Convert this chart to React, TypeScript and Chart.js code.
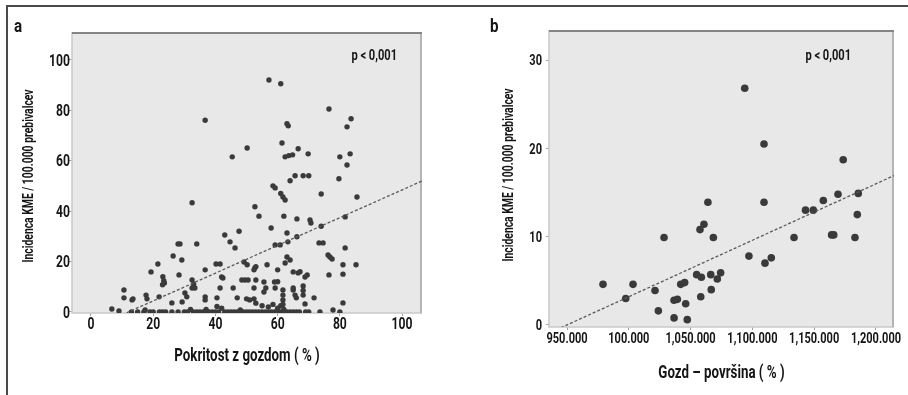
import React, { useEffect, useRef } from "react";
import { Chart, registerables } from "chart.js";

Chart.register(...registerables);

const FONT = "Roboto, 'DejaVu Sans', sans-serif";

// Panel a: forest cover (%) per municipality vs. TBE incidence per 100,000 inhabitants
const coverA: number[] = [
  // upper cloud
  57.2, 61, 36.7, 76.5, 83.6, 82.3, 63, 63.4, 61.4, 50.2, 45.4, 66.6, 62.4, 63.6, 64.8, 69.8, 80, 83.3,
  82.3, 79.7, 64, 65.6, 68.2, 70, 58.5, 59.2, 74, 61, 85.5, 32.5, 52.7, 61.7, 62.4,
  // 25–40
  54, 62, 66.2, 57.9, 70.4, 70.7, 81.7, 74, 73.3, 74.6, 63, 63.3, 66.2, 59.2, 60.8, 44.7, 46.3, 47.6,
  43, 28, 28.6, 34, 81.7,
  // 15–25
  29.2, 26.4, 21.5, 19.3, 36.7, 40.2, 41.5, 49.2, 50.2, 52.7, 53, 56.6, 60, 62.4, 64, 63, 65, 66.6,
  67.2, 76.8, 77.5, 76.2, 76.5, 81, 81, 85.2, 28.3, 52.4, 69.5,
  // 5–15
  23.1, 23.4, 23, 23.6, 32.5, 32.5, 33.4, 30.2, 30.8, 33, 42, 41.5, 36.7, 36.7, 40.5, 45.7, 47, 48.5,
  50.5, 50, 52.4, 53, 55.6, 56.2, 59.2, 61.7, 61.7, 65, 65.6, 68.2, 68.2, 68.2, 68.8, 71.7, 10.6, 10.6,
  13.5, 17.7, 18, 21.9, 52.4, 55.6, 42.4, 49.5, 65, 66, 60, 59,
  // 0–5
  68.8, 81, 26, 29.3, 13.2, 6.7, 9, 17.4, 77.8, 51, 53, 55, 57, 58.5, 60, 61, 61.7, 61.7, 62, 40.5,
  42, 37, 32, 48,
  // on zero
  13, 15, 17, 19, 20, 22, 23, 24, 26, 28, 30, 31, 33, 34, 35, 36, 37, 38, 39, 40, 41, 43, 44, 45, 46,
  47, 48, 49, 50, 51, 52, 53, 54, 55, 56, 57, 58, 59, 60, 61, 62, 63, 64, 65, 66, 67, 69, 70, 73.6, 80,
];
const incidenceA: number[] = [
  92, 90.5, 76, 80.5, 76.6, 73.4, 74.6, 73.8, 67, 65, 61.5, 64.7, 61.5, 62, 62.3, 62.7, 61.5, 62.7,
  58.3, 52.8, 52, 54, 54, 54, 50, 49.2, 46.8, 47, 45.6, 43.3, 41.7, 45.6, 44.4,
  38, 38, 36.9, 33.3, 36.5, 35.3, 37.7, 34, 27.4, 27.4, 31.3, 27.8, 29.8, 26.6, 26.6, 27.8, 25.4, 32,
  30.5, 27, 27, 27, 25.4,
  20.6, 22.2, 19, 15.9, 16.7, 19, 19, 19.8, 18.7, 17.5, 18, 18.7, 16.7, 19.4, 20.6, 21.8, 15.9, 15.5,
  16, 21.8, 21, 22.6, 14.7, 15, 18.7, 18.7, 14.7, 16.7, 14.7,
  14, 12.4, 10.8, 11.5, 12.7, 9.5, 9.5, 7.5, 6, 11, 13.9, 9.5, 6, 4.8, 5.6, 9.5, 5.6, 12.7,
  12.7, 5.2, 5.2, 12.7, 11.9, 9.5, 9.5, 8.7, 6.7, 8.7, 6.7, 10.3, 8.5, 6.7, 13.9, 5.6, 8.7, 5.6,
  5.2, 6.7, 5.2, 6, 9.5, 7.9, 13.5, 12.7, 9.5, 5.6, 12, 11.9,
  3.2, 3.6, 3.6, 4, 4.8, 1.2, 0.4, 0.8, 0.8, 4.8, 3.5, 2.5, 2, 3, 1.5, 2.5, 4.8, 3, 1, 2.2,
  1.5, 1, 1, 0.8,
  0, 0, 0, 0, 0, 0, 0, 0, 0, 0, 0, 0, 0, 0, 0, 0, 0, 0, 0, 0, 0, 0, 0, 0, 0,
  0, 0, 0, 0, 0, 0, 0, 0, 0, 0, 0, 0, 0, 0, 0, 0, 0, 0, 0, 0, 0, 0, 0, 0, 0,
];

// Panel b: forest area vs. TBE incidence per 100,000 inhabitants
const forestAreaB: number[] = [
  1093.8, 1109.4, 1173.5, 1185.7, 1169.3, 1157.4, 1064, 1109.4, 1143, 1149.3, 1184.9, 1164.1, 1165.8,
  1183, 1133.7, 1097.2, 1110.2, 1115.3, 1057.6, 1060.8, 1068.4, 1028.5, 1054.9, 1058.7, 1066.3, 1071.6,
  1074.3, 1066.7, 1058.2, 1042, 1045.2, 1036.6, 1039.3, 1046, 1021.2, 1023.9, 1036.6, 1047.3, 997.5,
  1003.4, 979.1,
];
const incidenceB: number[] = [
  26.8, 20.5, 18.7, 14.9, 14.8, 14.1, 13.9, 13.9, 13.0, 13.0, 12.5, 10.2, 10.2,
  9.9, 9.9, 7.8, 7.0, 7.6, 10.8, 11.4, 9.9, 9.9, 5.7, 5.4, 5.7, 5.2,
  5.9, 4.0, 3.2, 4.6, 4.8, 2.8, 2.9, 2.4, 3.9, 1.6, 0.8, 0.6, 3.0,
  4.6, 4.6,
];

const xTicksA = [0, 20, 40, 60, 80, 100];
const yTicksA = [0, 20, 40, 60, 80, 100];
const xTicksB = [950, 1000, 1050, 1100, 1150, 1200];
const xTickLabelsB = ["950.000", "100.000", "1,050.000", "1,100.000", "1,150.000", "1,200.000"];
const yTicksB = [0, 10, 20, 30];

// Least-squares fits drawn as dashed lines
const fitA = { intercept: -6.6, slope: 0.55 };
const fitB = { intercept: -60.7, slope: 0.0639 };

type Panel = {
  letter: string;
  letterX: number;
  pInset: number;
  xs: number[];
  ys: number[];
  fit: { intercept: number; slope: number };
  fitFrom: number;
  xMin: number;
  xMax: number;
  yMin: number;
  yMax: number;
  xTicks: number[];
  xLabels?: string[];
  yTicks: number[];
  xTitle: string;
  yTitle: string;
  pointRadius: number;
  padTop: number;
  padRight: number;
  yAxisWidth: number;
  xAxisHeight: number;
  tickSize: number;
  tickSX: number;
  yLabelGap: number;
  xLabelBase: number;
  xTitleBase: number;
  yTitleBase: number;
  yTitleCenter: number;
};

const panels: Panel[] = [
  {
    letter: "a",
    letterX: 14,
    pInset: 25,
    xs: coverA,
    ys: incidenceA,
    fit: fitA,
    fitFrom: 10,
    xMin: -6.1,
    xMax: 106.4,
    yMin: -0.4,
    yMax: 111,
    xTicks: xTicksA,
    yTicks: yTicksA,
    xTitle: "Pokritost z gozdom ( % )",
    yTitle: "Incidenca KME / 100.000 prebivalcev",
    pointRadius: 2.7,
    padTop: 32,
    padRight: 32,
    yAxisWidth: 72,
    xAxisHeight: 82,
    tickSize: 16,
    tickSX: 0.76,
    yLabelGap: 2,
    xLabelBase: 329,
    xTitleBase: 361,
    yTitleBase: 33,
    yTitleCenter: 176,
  },
  {
    letter: "b",
    letterX: 36,
    pInset: 43,
    xs: forestAreaB,
    ys: incidenceB,
    fit: fitB,
    fitFrom: 945,
    xMin: 935.4,
    xMax: 1214.6,
    yMin: -0.23,
    yMax: 33.4,
    xTicks: xTicksB,
    xLabels: xTickLabelsB,
    yTicks: yTicksB,
    xTitle: "Gozd – površina ( % )",
    yTitle: "Incidenca KME / 100.000 prebivalcev",
    pointRadius: 3.8,
    padTop: 30,
    padRight: 14,
    yAxisWidth: 95,
    xAxisHeight: 68,
    tickSize: 14.5,
    tickSX: 0.76,
    yLabelGap: 7,
    xLabelBase: 343,
    xTitleBase: 378,
    yTitleBase: 59,
    yTitleCenter: 175,
  },
];

function drawCondensed(
  ctx: CanvasRenderingContext2D,
  text: string,
  x: number,
  y: number,
  size: number,
  sx: number,
  align: CanvasTextAlign,
  rotate = false,
  weight = 700
) {
  ctx.save();
  ctx.translate(x, y);
  if (rotate) ctx.rotate(-Math.PI / 2);
  ctx.scale(sx, 1);
  ctx.font = `${weight} ${size}px ${FONT}`;
  ctx.textAlign = align;
  ctx.textBaseline = "alphabetic";
  ctx.fillStyle = "#151515";
  ctx.fillText(text, 0, 0);
  ctx.restore();
}

const plotFrame = {
  id: "plotFrame",
  beforeDraw(chart: any) {
    const { ctx, chartArea } = chart;
    const { left, top, right, bottom } = chartArea;
    ctx.save();
    ctx.fillStyle = "#e8e8e8";
    ctx.fillRect(left, top, right - left, bottom - top);
    ctx.restore();
  },
  beforeDatasetsDraw(chart: any) {
    const { ctx, chartArea } = chart;
    const { left, top, right, bottom } = chartArea;
    ctx.save();
    ctx.strokeStyle = "#c9c9c9";
    ctx.lineWidth = 1.5;
    ctx.beginPath();
    ctx.moveTo(left, top);
    ctx.lineTo(left, bottom);
    ctx.lineTo(right, bottom);
    ctx.stroke();
    ctx.strokeStyle = "#b4b4b4";
    ctx.lineWidth = 2;
    ctx.beginPath();
    ctx.moveTo(right - 1, top);
    ctx.lineTo(right - 1, bottom);
    ctx.stroke();
    ctx.strokeStyle = "#858585";
    ctx.lineWidth = 2;
    ctx.beginPath();
    ctx.moveTo(left, top + 1);
    ctx.lineTo(right, top + 1);
    ctx.stroke();
    ctx.restore();
  },
  afterDraw(chart: any, _args: any, opts: any) {
    const p: Panel = opts.panel;
    const { ctx, chartArea, scales } = chart;
    const xs = scales.x;
    const ys = scales.y;
    // tick labels
    p.xTicks.forEach((v, i) => {
      const label = p.xLabels ? p.xLabels[i] : String(v);
      drawCondensed(ctx, label, xs.getPixelForValue(v), p.xLabelBase, p.tickSize, p.tickSX, "center");
    });
    p.yTicks.forEach((v) => {
      drawCondensed(
        ctx,
        String(v),
        chartArea.left - p.yLabelGap,
        ys.getPixelForValue(v) + p.tickSize * 0.36,
        p.tickSize,
        p.tickSX,
        "right"
      );
    });
    // axis titles
    drawCondensed(ctx, p.xTitle, (chartArea.left + chartArea.right) / 2, p.xTitleBase, 18, 0.74, "center");
    drawCondensed(ctx, p.yTitle, p.yTitleBase, p.yTitleCenter, 15.5, 0.67, "center", true);
    // panel letter and significance
    drawCondensed(ctx, p.letter, p.letterX, 32, 19, 0.8, "left");
    drawCondensed(ctx, "p < 0,001", chartArea.right - p.pInset, 60, 15, 0.74, "right");
  },
};

function PanelChart({ panel, left }: { panel: Panel; left: number }) {
  const ref = useRef<HTMLCanvasElement | null>(null);

  useEffect(() => {
    if (!ref.current) return;
    const p = panel;
    const points = p.xs.map((x, i) => ({ x, y: p.ys[i] }));
    const fitTo = p.xMax;
    const fitLine = [
      { x: p.fitFrom, y: p.fit.intercept + p.fit.slope * p.fitFrom },
      { x: fitTo, y: p.fit.intercept + p.fit.slope * fitTo },
    ];

    const chart = new Chart(ref.current, {
      type: "scatter",
      data: {
        datasets: [
          {
            data: fitLine,
            showLine: true,
            borderColor: "#5a5a5a",
            borderWidth: 1.3,
            borderDash: [3, 2],
            pointRadius: 0,
            fill: false,
          },
          {
            data: points,
            pointRadius: p.pointRadius,
            pointBackgroundColor: "#3a3a3a",
            pointBorderWidth: 0,
            borderWidth: 0,
          },
        ],
      },
      options: {
        animation: false,
        responsive: false,
        devicePixelRatio: 1,
        layout: { padding: { left: 0, top: p.padTop, right: p.padRight, bottom: 0 } },
        plugins: {
          legend: { display: false },
          tooltip: { enabled: false },
          plotFrame: { panel: p },
        } as any,
        scales: {
          x: {
            type: "linear",
            min: p.xMin,
            max: p.xMax,
            afterBuildTicks: (s: any) => {
              s.ticks = p.xTicks.map((v) => ({ value: v }));
            },
            afterFit: (s: any) => {
              s.height = p.xAxisHeight;
            },
            grid: { drawOnChartArea: false, drawTicks: true, tickLength: 3, color: "#a0a0a0" },
            border: { display: false },
            ticks: { display: false, autoSkip: false },
            title: { display: false },
          },
          y: {
            type: "linear",
            min: p.yMin,
            max: p.yMax,
            afterBuildTicks: (s: any) => {
              s.ticks = p.yTicks.map((v) => ({ value: v }));
            },
            afterFit: (s: any) => {
              s.width = p.yAxisWidth;
            },
            grid: { drawOnChartArea: false, drawTicks: true, tickLength: 3, color: "#a0a0a0" },
            border: { display: false },
            ticks: { display: false, autoSkip: false },
            title: { display: false },
          },
        },
      } as any,
      plugins: [plotFrame],
    });
    return () => chart.destroy();
  }, [panel]);

  return (
    <canvas
      ref={ref}
      width={454}
      height={395}
      style={{ position: "absolute", left, top: 0, width: 454, height: 395 }}
    />
  );
}

export default function App() {
  return (
    <div
      style={{
        position: "fixed",
        left: 0,
        top: 0,
        width: 908,
        height: 395,
        background: "#fff",
        overflow: "hidden",
      }}
    >
      <div
        style={{
          position: "absolute",
          left: 6,
          top: 5,
          right: 0,
          bottom: 0,
          borderTop: "2px solid #4a4a4a",
          borderLeft: "2px solid #4a4a4a",
        }}
      />
      <PanelChart panel={panels[0]} left={0} />
      <PanelChart panel={panels[1]} left={454} />
    </div>
  );
}
